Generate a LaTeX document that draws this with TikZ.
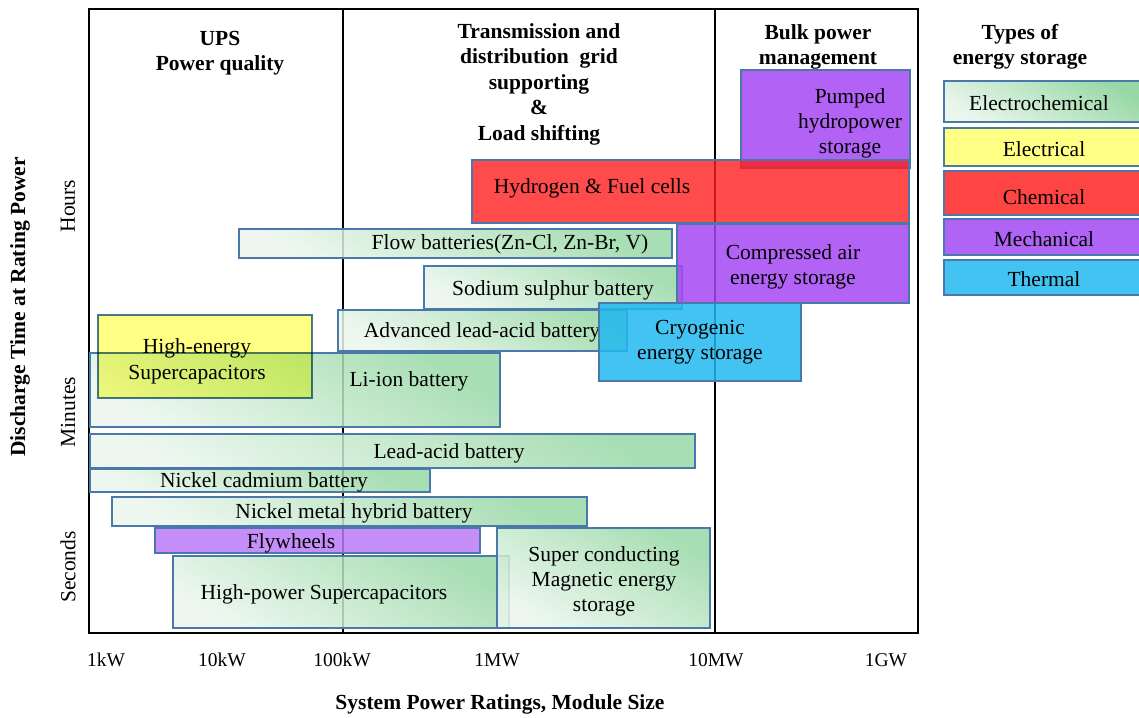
\documentclass[tikz,border=0pt]{standalone}
\usepackage{fontspec}
\setmainfont{Liberation Serif}
\definecolor{edge}{HTML}{4A78AA}
\definecolor{ecdark}{HTML}{98D8A6}
\definecolor{eclight}{HTML}{EAF6EC}
\definecolor{elyellow}{HTML}{FFFF84}
\definecolor{chred}{HTML}{FF1E1E}
\definecolor{mepurple}{HTML}{A448F3}
\definecolor{flypurple}{HTML}{BC7AF8}
\definecolor{thblue}{HTML}{21B8EE}
\definecolor{lgred}{HTML}{FF4444}
\definecolor{lgpurple}{HTML}{B064F5}
\definecolor{lgblue}{HTML}{42C3F1}
\begin{document}
\begin{tikzpicture}
[x=1pt, y=-1pt, font=\fontsize{21.5}{25}\selectfont,
  frame/.style={line width=1.8pt},
  box/.style={draw=edge, line width=1.6pt},
  echem/.style={box, top color=ecdark, bottom color=eclight, shading angle=-30, fill opacity=.85},
  elec/.style={box, fill=elyellow, blend mode=multiply},
  chem/.style={box, fill=chred, fill opacity=.8},
  mech/.style={box, fill=mepurple, fill opacity=.85},
  fly/.style={box, fill=flypurple, fill opacity=.85},
  therm/.style={box, fill=thblue, fill opacity=.85},
  title/.style={font=\fontsize{21.5}{25.5}\selectfont\bfseries, align=center},
  tick/.style={font=\fontsize{19.5}{22}\selectfont},
  txt/.style={align=center, font=\fontsize{21.5}{25}\selectfont}]
\useasboundingbox (0,0) rectangle (1139,717);
% plot frame
\draw[frame] (89,9) rectangle (918,633);
\draw[frame] (343,9) -- (343,633) (715,9) -- (715,633);
% section titles
\node[title] (ups) at (220,53) {UPS\\Power quality};
\node[title] (tnd) at (539,84) {Transmission and\\distribution \ grid\\supporting\\\&\\Load shifting};
\node[title] (bulk) at (818,47) {Bulk power\\management};
\node[title] (types) at (1020,47) {Types of\\energy storage};
% electrochemical
\draw[echem] (239,229) rectangle (672,258);
\node (flow) at (510,244) {Flow batteries(Zn-Cl, Zn-Br, V)};
\draw[echem] (424,266) rectangle (682,309);
\node (nas) at (553,290) {Sodium sulphur battery};
\draw[echem] (338,310) rectangle (627,351);
\node (adv) at (482,332) {Advanced lead-acid battery};
\draw[echem] (90,353) rectangle (500,427);
\node (liion) at (409,381) {Li-ion battery};
\draw[echem] (90,434) rectangle (695,468);
\node (lead) at (449,453) {Lead-acid battery};
\draw[echem] (90,469) rectangle (430,492);
\node (nicd) at (264,482) {Nickel cadmium battery};
\draw[echem] (112,497) rectangle (587,526);
\node (nimh) at (354,513) {Nickel metal hybrid battery};
\draw[echem] (173,556) rectangle (509,628);
\node (hpsc) at (324,594) {High-power Supercapacitors};
\draw[echem] (497,528) rectangle (710,628);
\node[txt] (smes) at (604,581) {Super conducting\\Magnetic energy\\storage};
% electrical
\draw[elec] (98,315) rectangle (312,398);
\node[txt, font=\fontsize{21.5}{26}\selectfont] (hesc) at (197,361) {High-energy\\Supercapacitors};
% mechanical
\draw[mech] (741,70) rectangle (910,168);
\node[txt] (phs) at (850,123) {Pumped\\hydropower\\storage};
\draw[fly] (155,528) rectangle (480,553);
\node (flyw) at (291,543) {Flywheels};
% chemical
\draw[chem] (472,160) rectangle (909,223);
\node (h2) at (592,188) {Hydrogen \& Fuel cells};
\draw[mech] (677,224) rectangle (909,303);
\node[txt] (caes) at (793,267) {Compressed air\\energy storage};
% thermal
\draw[therm] (599,303) rectangle (801,381);
\node[txt] (cryo) at (700,342) {Cryogenic\\energy storage};
% legend
\draw[box, top color=ecdark, bottom color=eclight, shading angle=-30] (944,81) rectangle (1145,122);
\node (lgec) at (1039,103) {Electrochemical};
\draw[box, fill=elyellow] (944,128) rectangle (1145,166);
\node (lgel) at (1044,149) {Electrical};
\draw[box, fill=lgred] (944,171) rectangle (1145,215);
\node (lgch) at (1044,197) {Chemical};
\draw[box, fill=lgpurple] (944,219) rectangle (1145,255);
\node (lgme) at (1044,239) {Mechanical};
\draw[box, fill=lgblue] (944,260) rectangle (1145,295);
\node (lgth) at (1044,279) {Thermal};
% axes
\node[tick] (t1) at (106,660) {1kW};
\node[tick] (t2) at (222,660) {10kW};
\node[tick] (t3) at (342,660) {100kW};
\node[tick] (t4) at (497,660) {1MW};
\node[tick] (t5) at (716,660) {10MW};
\node[tick] (t6) at (886,660) {1GW};
\node[font=\fontsize{21.5}{25}\selectfont\bfseries] (xlab) at (500,704) {System Power Ratings, Module Size};
\node[font=\fontsize{21.5}{25}\selectfont\bfseries, rotate=90] (ylab) at (20,307) {Discharge Time at Rating Power};
\node[tick, font=\fontsize{21.5}{25}\selectfont, rotate=90] (hrs) at (68,206) {Hours};
\node[tick, font=\fontsize{21.5}{25}\selectfont, rotate=90] (mins) at (68,412) {Minutes};
\node[tick, font=\fontsize{21.5}{25}\selectfont, rotate=90] (secs) at (68,567) {Seconds};
\end{tikzpicture}
\end{document}
